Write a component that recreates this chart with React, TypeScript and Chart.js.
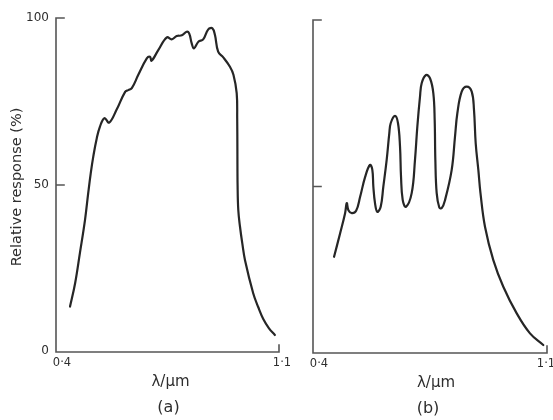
import React, { useEffect, useRef } from "react";
import { Chart, registerables } from "chart.js";

Chart.register(...registerables);

// ---- Data -------------------------------------------------------------
const wavelengthA = [
  0.444, 0.460, 0.475, 0.491, 0.501, 0.509, 0.517, 0.528, 0.538, 0.552, 0.567,
  0.590, 0.617, 0.627, 0.638, 0.658, 0.685, 0.695, 0.700, 0.721, 0.748, 0.763,
  0.779, 0.795, 0.810, 0.818, 0.826, 0.833, 0.847, 0.862, 0.878, 0.891, 0.899,
  0.909, 0.925, 0.946, 0.957, 0.9672, 0.9688, 0.9694, 0.970, 0.9722, 0.9776,
  0.9848, 0.9933, 1.019, 1.035, 1.051, 1.0686, 1.087,
];
const responseA = [
  13.6, 20.6, 29.6, 39.5, 47.5, 53.5, 58.5, 64.0, 67.5, 70.0, 68.7,
  72.5, 77.9, 78.4, 79.0, 82.9, 87.9, 88.4, 87.2, 90.4, 94.2, 93.6,
  94.6, 94.8, 95.9, 95.4, 92.4, 90.9, 92.9, 93.6, 96.6, 96.9, 94.9,
  89.9, 88.2, 85.4, 83.0, 77.5, 70.0, 60.0, 50.0, 42.5, 37.5,
  32.5, 27.5, 17.6, 13.4, 9.8, 7.1, 5.1,
];

const wavelengthB = [
  0.463, 0.481, 0.496, 0.501, 0.506, 0.516, 0.529, 0.541, 0.556, 0.5705, 0.5775,
  0.5805, 0.5855, 0.5924, 0.6025, 0.6103, 0.6204, 0.6283, 0.6324, 0.6453, 0.6543,
  0.6603, 0.6633, 0.6683, 0.678, 0.6952, 0.7051, 0.7121, 0.7201, 0.7251, 0.738,
  0.750, 0.760, 0.764, 0.766, 0.770, 0.7778, 0.785, 0.7949, 0.8149, 0.8248,
  0.8318, 0.8448, 0.8598, 0.8748, 0.8816, 0.8867, 0.8946, 0.901, 0.9145, 0.9394,
  0.9693, 1.0094, 1.0491, 1.0889,
];
const responseB = [
  28.9, 35.9, 42.0, 45.0, 42.9, 42.0, 42.7, 46.9, 52.9, 56.5, 55.0,
  50.0, 45.0, 42.4, 43.9, 49.9, 58.0, 66.0, 69.0, 71.2, 69.0,
  62.0, 53.0, 46.0, 43.9, 48.0, 58.0, 68.0, 77.0, 81.0, 83.5,
  82.5, 78.0, 70.0, 58.0, 48.0, 43.7, 43.5, 45.9, 55.0, 65.0,
  72.0, 78.5, 80.0, 78.5, 73.0, 63.0, 55.0, 48.0, 37.9, 27.9,
  19.9, 11.9, 5.9, 2.4,
];

const xRange = [0.4, 1.1];
const yRange = [0, 100];
const xTickValues = [0.4, 1.1];
const xTickLabels = ["0·4", "1·1"];
const yTickValues = [0, 50, 100];
const yTickLabels = ["0", "50", "100"];
const xAxisTitle = "λ/µm";
const yAxisTitle = "Relative response (%)";
const panelTitles = ["(a)", "(b)"];

// ---- Styling ----------------------------------------------------------
const FONT = '"DejaVu Sans", "Liberation Sans", sans-serif';
const INK = "#262626";
const AXIS = "#555555";
const TEXT = "#2e2e2e";

type PanelCfg = {
  id: string;
  showYLabels: boolean;
  title: string;
  xTitleShift: number;
  titleShift: number;
  xLabelShifts: number[];
};

function framePlugin(cfg: PanelCfg) {
  return {
    id: "frame" + cfg.id,
    afterDraw(chart: any) {
      const { ctx } = chart;
      const xs = chart.scales.x;
      const ys = chart.scales.y;
      const x0 = xs.getPixelForValue(xRange[0]);
      const x1 = xs.getPixelForValue(xRange[1]);
      const y0 = ys.getPixelForValue(yRange[0]);
      const y1 = ys.getPixelForValue(yRange[1]);
      ctx.save();
      ctx.strokeStyle = AXIS;
      ctx.lineWidth = 1.6;
      ctx.lineCap = "square";
      ctx.beginPath();
      ctx.moveTo(x0, y1);
      ctx.lineTo(x0, y0);
      ctx.lineTo(x1, y0);
      ctx.lineTo(x1, y0 - 7);
      for (const v of yTickValues) {
        if (v === yRange[0]) continue;
        const py = ys.getPixelForValue(v);
        ctx.moveTo(x0, py);
        ctx.lineTo(x0 + 8, py);
      }
      ctx.stroke();

      ctx.fillStyle = TEXT;
      // x tick labels
      ctx.font = `11.5px ${FONT}`;
      ctx.textBaseline = "middle";
      ctx.textAlign = "center";
      xTickValues.forEach((v, i) => {
        const px = xs.getPixelForValue(v);
        ctx.fillText(xTickLabels[i], px + cfg.xLabelShifts[i], y0 + 11);
      });
      // y tick labels
      if (cfg.showYLabels) {
        ctx.font = `12px ${FONT}`;
        ctx.textAlign = "right";
        yTickValues.forEach((v, i) => {
          const py = ys.getPixelForValue(v);
          ctx.fillText(yTickLabels[i], x0 - 7, py - (i === 0 ? 1 : 0));
        });
        ctx.save();
        ctx.font = `14.5px ${FONT}`;
        ctx.translate(17, (y0 + y1) / 2 + 2);
        ctx.rotate(-Math.PI / 2);
        ctx.textAlign = "center";
        ctx.fillText(yAxisTitle, 0, 0);
        ctx.restore();
      }
      // axis title & panel title
      const cx = (x0 + x1) / 2;
      ctx.textAlign = "center";
      ctx.font = `15px ${FONT}`;
      ctx.fillText(xAxisTitle, cx + cfg.xTitleShift, y0 + 30);
      ctx.font = `16px ${FONT}`;
      ctx.fillText(cfg.title, cx + cfg.titleShift, y0 + 56);
      ctx.restore();
    },
  };
}

function Panel(props: {
  xs: number[];
  ys: number[];
  cfg: PanelCfg;
  left: number;
  width: number;
  padding: { left: number; right: number; top: number; bottom: number };
}) {
  const ref = useRef<HTMLCanvasElement | null>(null);
  useEffect(() => {
    if (!ref.current) return;
    const chart = new Chart(ref.current, {
      type: "line",
      data: {
        datasets: [
          {
            data: props.xs.map((x, i) => ({ x, y: props.ys[i] })),
            borderColor: INK,
            borderWidth: 2.2,
            pointRadius: 0,
            fill: false,
            tension: 0.4,
            borderJoinStyle: "round",
            borderCapStyle: "round",
          },
        ],
      },
      options: {
        responsive: false,
        animation: false,
        layout: { padding: props.padding },
        scales: {
          x: { type: "linear", min: xRange[0], max: xRange[1], display: false },
          y: { type: "linear", min: yRange[0], max: yRange[1], display: false },
        },
        plugins: { legend: { display: false }, tooltip: { enabled: false } },
      },
      plugins: [framePlugin(props.cfg)],
    } as any);
    return () => chart.destroy();
  }, []);
  return (
    <canvas
      ref={ref}
      width={props.width}
      height={420}
      style={{ position: "absolute", left: props.left, top: 0 }}
    />
  );
}

export default function App() {
  return (
    <div
      style={{
        position: "fixed",
        left: 0,
        top: 0,
        width: 553,
        height: 420,
        background: "#ffffff",
        overflow: "hidden",
      }}
    >
      <Panel
        xs={wavelengthA}
        ys={responseA}
        left={0}
        width={295}
        padding={{ left: 56, right: 16, top: 18, bottom: 68 }}
        cfg={{
          id: "a",
          showYLabels: true,
          title: panelTitles[0],
          xTitleShift: 3,
          titleShift: 1,
          xLabelShifts: [6, 3],
        }}
      />
      <Panel
        xs={wavelengthB}
        ys={responseB}
        left={295}
        width={258}
        padding={{ left: 18, right: 6, top: 20, bottom: 67 }}
        cfg={{
          id: "b",
          showYLabels: false,
          title: panelTitles[1],
          xTitleShift: 6,
          titleShift: -2,
          xLabelShifts: [6, -1],
        }}
      />
    </div>
  );
}
